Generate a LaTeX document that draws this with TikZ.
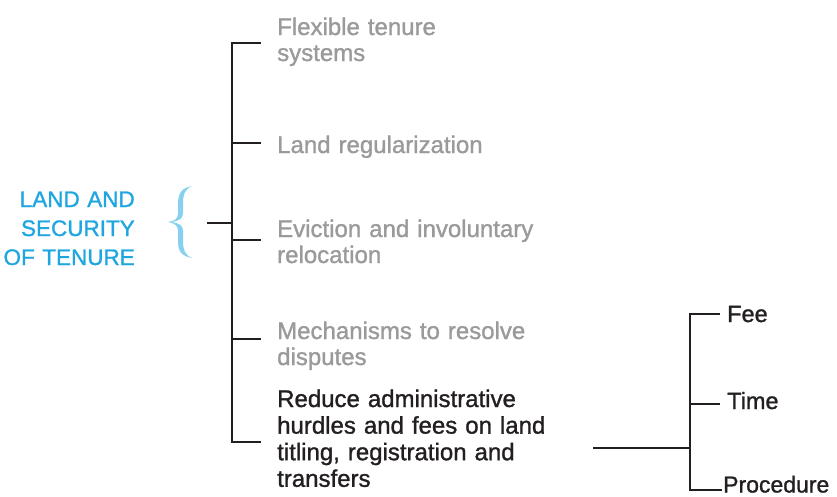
\documentclass[tikz,border=0pt]{standalone}
\usepackage{fontspec}
\setmainfont{Liberation Sans}[FakeBold=1.2]
\definecolor{greytxt}{HTML}{9A9A9A}
\definecolor{darktxt}{HTML}{231F20}
\definecolor{bluetxt}{HTML}{1FA6E0}
\definecolor{bracec}{HTML}{86D0F0}
\tikzset{
  item/.style={inner sep=0pt, anchor=base west, align=left, text width=300pt,
    font=\fontsize{24}{26}\selectfont},
  greyitem/.style={item, text=greytxt},
  darkitem/.style={item, text=darktxt, font=\fontsize{24}{26.6}\selectfont},
  leaf/.style={inner sep=0pt, anchor=base west, text=darktxt, font=\fontsize{23.5}{26}\selectfont},
  conn/.style={draw=darktxt, line width=2.8pt},
}
\begin{document}
\begin{tikzpicture}[x=1pt,y=-1pt]
\useasboundingbox (0,0) rectangle (837,496);
% root
\node[inner sep=0pt, anchor=base east, align=right, text width=140pt, text=bluetxt,
  font=\fontsize{22.5}{29}\selectfont] (root) at (135,207) {LAND AND\\SECURITY\\OF TENURE};
% brace
\fill[bracec] (192,186) .. controls (181,188) and (178,194) .. (178,204) -- (178,213)
  .. controls (178,219) and (175,221) .. (167.5,222)
  .. controls (175,223) and (178,226) .. (178,231) -- (178,241)
  .. controls (178,251) and (181,256) .. (192,258)
  .. controls (185,255) and (183,250) .. (183,241) -- (183,231)
  .. controls (183,226) and (180,223) .. (171,222)
  .. controls (180,221) and (183,218) .. (183,213) -- (183,204)
  .. controls (183,194) and (185,189) .. (192,186) -- cycle;
% items
\node[greyitem] (flex) at (277,35) {Flexible tenure\\systems};
\node[greyitem] (land) at (277,153) {Land regularization};
\node[greyitem] (evic) at (277,237) {Eviction and involuntary\\relocation};
\node[greyitem] (mech) at (277,339) {Mechanisms to resolve\\disputes};
\node[darkitem] (red) at (277,407) {Reduce administrative\\hurdles and fees on land\\titling, registration and\\transfers};
% main bracket
\coordinate (b1) at (232,43);
\coordinate (b2) at (232,143);
\coordinate (b3) at (232,240);
\coordinate (b4) at (232,339);
\coordinate (b5) at (232,442);
\coordinate (stub) at (207,223);
\draw[conn] ([xshift=-16pt]b1 -| flex.west) -- (b1) -- (b5) -- ([xshift=-16pt]b5 -| red.west);
\draw[conn] (b2) -- ([xshift=-16pt]b2 -| land.west);
\draw[conn] (b3) -- ([xshift=-16pt]b3 -| evic.west);
\draw[conn] (b4) -- ([xshift=-16pt]b4 -| mech.west);
\draw[conn] (stub) -- (stub -| b1);
% sub tree
\node[leaf] (fee) at (727,322) {Fee};
\node[leaf] (time) at (727,409) {Time};
\node[leaf, font=\fontsize{23}{26}\selectfont] (proc) at (723,492.5) {Procedure};
\coordinate (s0) at (593,448);
\coordinate (v1) at (690,314);
\coordinate (v2) at (690,404);
\coordinate (v3) at (690,490);
\draw[conn] ([xshift=-7pt]v1 -| fee.west) -- (v1) -- (v3) -- ([xshift=-1pt]v3 -| proc.west);
\draw[conn] (v2) -- ([xshift=-7pt]v2 -| time.west);
\draw[conn] (s0) -- (s0 -| v1);
\end{tikzpicture}
\end{document}
